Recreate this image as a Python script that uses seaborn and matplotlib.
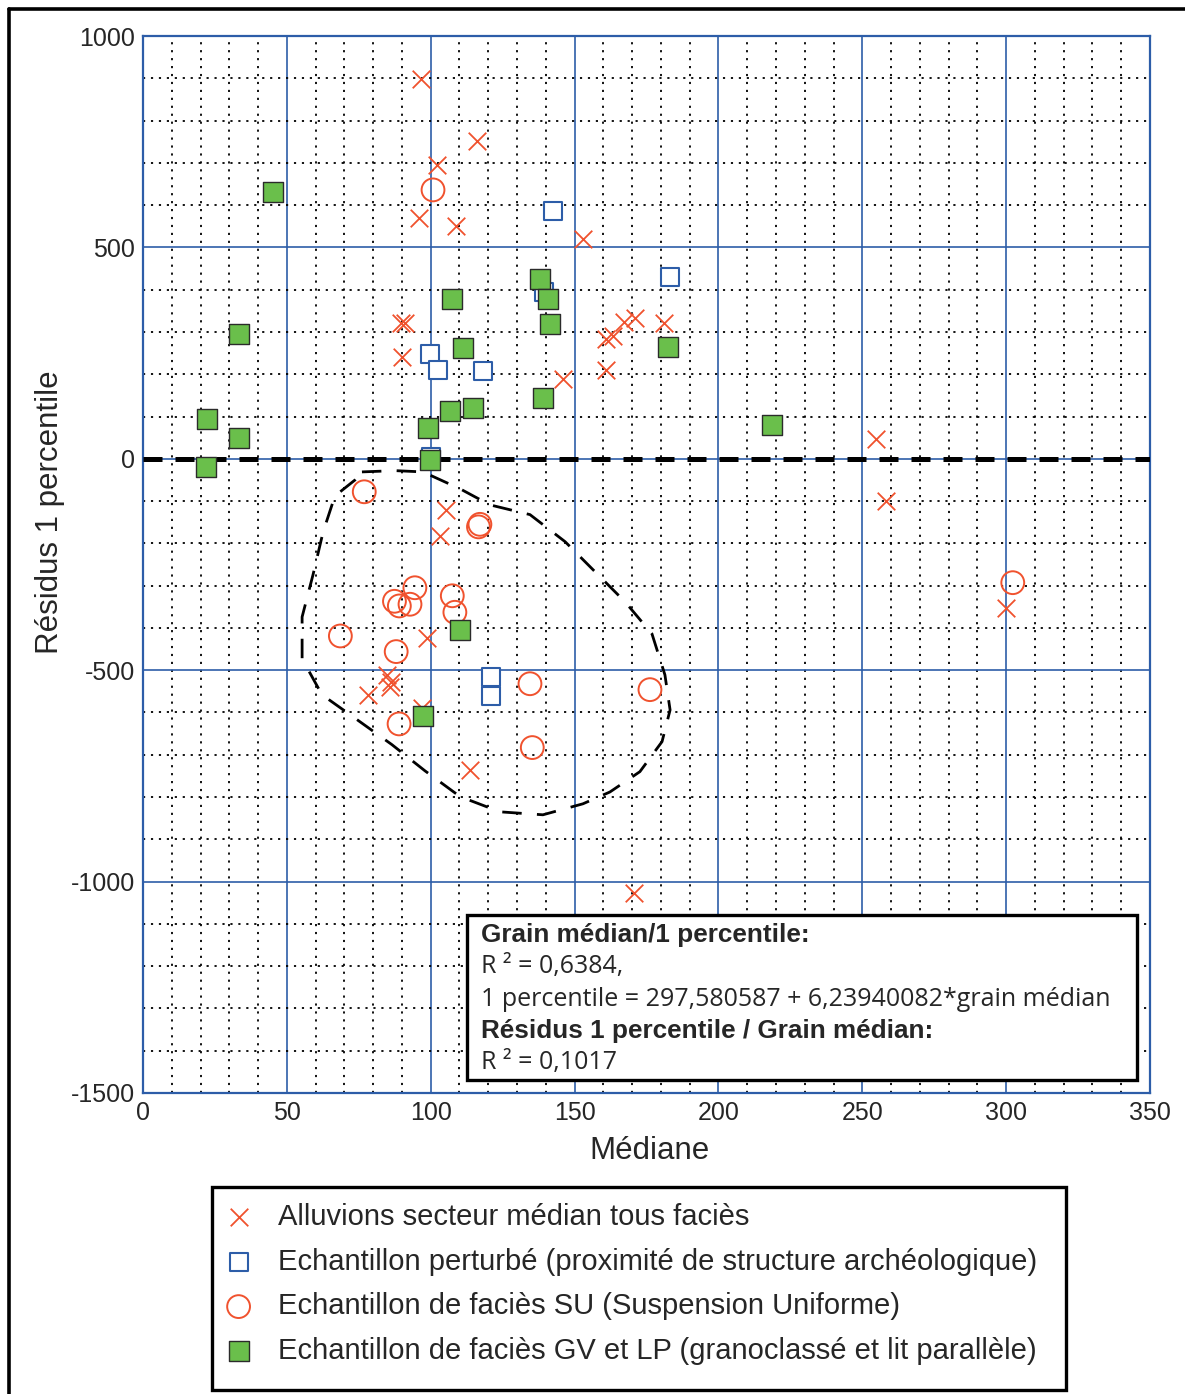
import numpy as np
import pandas as pd
import matplotlib
matplotlib.use("Agg")
import matplotlib.pyplot as plt
import seaborn as sns
from matplotlib.lines import Line2D
from matplotlib.patches import Rectangle
from matplotlib.ticker import MultipleLocator

# ---------------- data ----------------
alluvions_x = [96.6, 102.2, 116.1, 95.9, 108.8, 152.9, 89.7, 91.1, 90.0, 146.0,
               160.8, 163.5, 167.3, 171.0, 181.2, 160.8, 105.3, 103.3, 98.7, 84.7,
               86.2, 85.9, 78.3, 97.0, 113.7, 170.7, 254.7, 258.3, 300.0]
alluvions_y = [899, 695, 752, 570, 551, 520, 322, 322, 241, 189,
               284, 291, 323, 334, 322, 210, -120, -182, -423, -512,
               -527, -539, -559, -590, -736, -1026, 46, -100, -354]

perturbe_x = [142.4, 99.6, 102.4, 118.3, 139.5, 183.2, 100.0, 121.0, 121.0]
perturbe_y = [586, 247, 210, 208, 395, 430, 5, -517, -561]

su_x = [100.8, 76.9, 117.1, 116.6, 94.5, 87.4, 92.8, 89.1, 107.5, 108.4,
        68.6, 88.0, 134.5, 176.2, 89.0, 135.3, 302.3]
su_y = [636, -78, -155, -161, -305, -337, -344, -348, -324, -363,
        -419, -456, -532, -546, -627, -683, -293]

gvlp_x = [45.2, 33.4, 22.2, 33.4, 22.0, 107.5, 111.1, 106.6, 114.8, 99.1,
          99.8, 138.0, 140.7, 141.5, 138.9, 182.6, 218.7, 110.2, 97.2]
gvlp_y = [631, 295, 93, 50, -19, 377, 263, 113, 119, 74,
          -2, 426, 377, 320, 144, 264, 80, -406, -608]

# hand-drawn dashed envelope around SU samples (data coordinates)
outline_x = [76.1, 87.6, 97.3, 110.2, 120.6, 134.5, 146.7, 157.1, 167.5, 176.9,
             181.4, 183.2, 180.4, 172.7, 162.3, 152.9, 139.0, 124.1, 110.2, 98.0,
             86.5, 74.4, 62.2, 55.3, 55.3, 59.1, 62.6, 66.7, 73.7, 76.1]
outline_y = [-31, -28, -31, -71, -109, -132, -196, -267, -338, -414,
             -511, -594, -669, -740, -788, -816, -842, -835, -799, -738,
             -676, -617, -558, -473, -374, -274, -173, -88, -50, -31]

labels = ["Alluvions secteur médian tous faciès",
          "Echantillon perturbé (proximité de structure archéologique)",
          "Echantillon de faciès SU (Suspension Uniforme)",
          "Echantillon de faciès GV et LP (granoclassé et lit parallèle)"]

box_lines = ["Grain médian/1 percentile:",
             "R ² = 0,6384,",
             "1 percentile = 297,580587 + 6,23940082*grain médian",
             "Résidus 1 percentile / Grain médian:",
             "R ² = 0,1017"]
box_bold = [True, False, False, True, False]

xticks = [0, 50, 100, 150, 200, 250, 300, 350]
yticks = [-1500, -1000, -500, 0, 500, 1000]

# ---------------- style ----------------
sns.set_style("white")
plt.rcParams["font.family"] = ["Liberation Sans", "DejaVu Sans"]
plt.rcParams["axes.unicode_minus"] = False

RED = "#F0522E"
BLUE = "#2D5DA8"
GREEN = "#6ABF4B"

W, H = 1185, 1394
fig = plt.figure(figsize=(W / 100, H / 100), dpi=100)
ax = fig.add_axes([143 / W, 1 - 1093 / H, (1150 - 143) / W, (1093 - 36) / H])

df_a = pd.DataFrame({"x": alluvions_x, "y": alluvions_y})
df_p = pd.DataFrame({"x": perturbe_x, "y": perturbe_y})
df_s = pd.DataFrame({"x": su_x, "y": su_y})
df_g = pd.DataFrame({"x": gvlp_x, "y": gvlp_y})

sns.scatterplot(data=df_a, x="x", y="y", ax=ax, marker="x", s=160, color=RED,
                linewidth=1.3, label=labels[0], zorder=4)
sns.scatterplot(data=df_p, x="x", y="y", ax=ax, marker="s", s=150, facecolor="white",
                edgecolor=BLUE, linewidth=1.5, label=labels[1], zorder=5)
sns.scatterplot(data=df_s, x="x", y="y", ax=ax, marker="o", s=270, facecolor="none",
                edgecolor=RED, linewidth=1.4, label=labels[2], zorder=6)
sns.scatterplot(data=df_g, x="x", y="y", ax=ax, marker="s", s=190, color=GREEN,
                edgecolor="#2b2b2b", linewidth=1.0, label=labels[3], zorder=7)

# zero reference line and envelope
ax.axhline(0, color="black", lw=3.6, dashes=(3.8, 2.6), zorder=3)
ax.plot(outline_x, outline_y, color="black", lw=2.0, dashes=(7, 5.5), zorder=3)

ax.set_xlim(0, 350)
ax.set_ylim(-1500, 1000)
ax.set_xticks(xticks)
ax.set_yticks(yticks)
ax.xaxis.set_minor_locator(MultipleLocator(10))
ax.yaxis.set_minor_locator(MultipleLocator(100))
ax.grid(which="major", color=BLUE, lw=1.2, ls="-", zorder=1)
ax.grid(which="minor", color="black", lw=1.3, ls=(0, (1.2, 3.2)), zorder=1)
ax.set_axisbelow(True)
for sp in ax.spines.values():
    sp.set_color(BLUE)
    sp.set_linewidth(1.6)
ax.tick_params(which="both", direction="in", color=BLUE, labelsize=18)
ax.tick_params(which="major", length=0, pad=6)
ax.tick_params(which="minor", length=8, width=1.2)
ax.set_xlabel("Médiane", fontsize=22.5)
ax.set_ylabel("Résidus 1 percentile", fontsize=22.5)


def axx(px):
    return (px - 143) / 1007


def axy(py):
    return (1093 - py) / 1057


ax.xaxis.set_label_coords(axx(649), axy(1136))
ax.yaxis.set_label_coords(axx(65), axy(512))

# statistics box
ax.add_patch(Rectangle((axx(467), axy(1080)), axx(1137) - axx(467), axy(915) - axy(1080),
                       transform=ax.transAxes, facecolor="white", edgecolor="black",
                       lw=2.4, zorder=10))
line_y = [935, 967, 999, 1031, 1063]
for txt, bold, py in zip(box_lines, box_bold, line_y):
    if bold:
        ax.text(axx(481), axy(py), txt, transform=ax.transAxes, fontsize=18.8,
                fontweight="bold", va="center", ha="left", zorder=11,
                family=["Liberation Sans", "DejaVu Sans"])
    else:
        ax.text(axx(481), axy(py), txt, transform=ax.transAxes, fontsize=18,
                va="center", ha="left", zorder=11, family=["Open Sans", "DejaVu Sans"])

# legend below (frame drawn separately)
handles, labs = ax.get_legend_handles_labels()
ax.get_legend().remove()
fig.add_artist(Rectangle((212 / W, 1 - 1390 / H), (1066 - 212) / W, (1390 - 1187) / H,
                         transform=fig.transFigure, facecolor="white", edgecolor="black",
                         lw=2.4))
leg = fig.legend(handles, labs, loc="upper left",
                 bbox_to_anchor=(224 / W, 1 - 1203 / H),
                 fontsize=21, frameon=False, labelspacing=0.57, handlelength=1.0,
                 handletextpad=0.85, borderpad=0, borderaxespad=0, markerscale=1.0)

# figure border (top and left)
fig.add_artist(Line2D([9 / W, 1], [1 - 9 / H, 1 - 9 / H], transform=fig.transFigure,
                      color="black", lw=2.6))
fig.add_artist(Line2D([9 / W, 9 / W], [0, 1 - 9 / H], transform=fig.transFigure,
                      color="black", lw=2.6))

fig.savefig("out.png", dpi=100)
